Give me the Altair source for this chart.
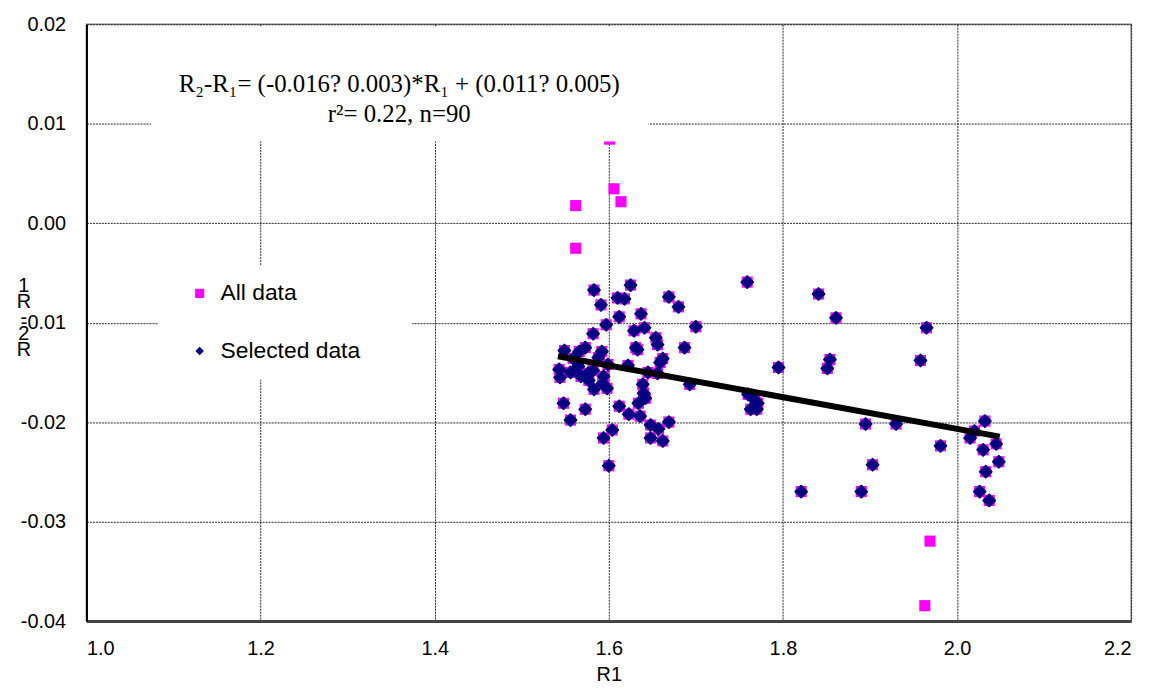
import altair as alt
import pandas as pd

# Selected data (R1, R2-R1)
sel_r1 = [1.583, 1.625, 1.610, 1.618, 1.669, 1.680, 1.591, 1.612, 1.637, 1.597,
          1.700, 1.582, 1.629, 1.641, 1.654, 1.656, 1.631, 1.633, 1.687, 1.573,
          1.566, 1.549, 1.592, 1.662, 1.659, 1.599, 1.622, 1.565, 1.543, 1.544,
          1.556, 1.576, 1.577, 1.582, 1.594, 1.593, 1.598, 1.583, 1.656, 1.693,
          1.639, 1.640, 1.642, 1.634, 1.548, 1.573, 1.612, 1.623, 1.636, 1.556,
          1.669, 1.648, 1.657, 1.604, 1.594, 1.648, 1.662, 1.600, 1.759, 1.841,
          1.861, 1.965, 1.958, 1.854, 1.851, 1.795, 1.760, 1.763, 1.770, 1.771,
          1.895, 1.930, 1.981, 1.903, 1.821, 1.890, 2.032, 2.020, 2.015, 2.045,
          2.030, 2.048, 2.033, 2.026, 2.037, 1.559, 1.588, 1.568, 1.645, 1.768]
sel_diff = [-0.00672, -0.00622, -0.00751, -0.00761, -0.00741, -0.00841, -0.00821, -0.00941, -0.00911, -0.01021,
            -0.01041, -0.01111, -0.01081, -0.01051, -0.01151, -0.01221, -0.01251, -0.01271, -0.01251, -0.01251,
            -0.01290, -0.01280, -0.01290, -0.01360, -0.01400, -0.01420, -0.01430, -0.01440, -0.01470, -0.01550,
            -0.01500, -0.01510, -0.01580, -0.01480, -0.01540, -0.01610, -0.01660, -0.01670, -0.01510, -0.01620,
            -0.01620, -0.01710, -0.01760, -0.01810, -0.01810, -0.01870, -0.01840, -0.01920, -0.01940, -0.01979,
            -0.01999, -0.02029, -0.02069, -0.02079, -0.02159, -0.02159, -0.02189, -0.02438, -0.00592, -0.00712,
            -0.00951, -0.01051, -0.01380, -0.01370, -0.01460, -0.01450, -0.01720, -0.01870, -0.01870, -0.01810,
            -0.02019, -0.02019, -0.02238, -0.02428, -0.02698, -0.02698, -0.01989, -0.02089, -0.02159, -0.02218,
            -0.02278, -0.02398, -0.02498, -0.02698, -0.02787, -0.01360, -0.01350, -0.01540, -0.01500, -0.01780]

# Points only in "All data"
out_r1 = [1.601, 1.562, 1.562, 1.606, 1.614, 1.969, 1.963]
out_diff = [0.00845, 0.00177, -0.00252, 0.00346, 0.00216, -0.03196, -0.03845]

# Fitted line end points
fit_r1 = [1.5416, 2.049]
fit_diff = [-0.01337, -0.02146]

x_ticks = [1.0, 1.2, 1.4, 1.6, 1.8, 2.0, 2.2]
y_ticks = [-0.04, -0.03, -0.02, -0.01, 0.0, 0.01, 0.02]

legend_labels = ["All data", "Selected data"]
eq_lines = ["R\u2082-R\u2081= (-0.016? 0.003)*R\u2081 + (0.011? 0.005)",
            "r\u00b2= 0.22, n=90"]
y_title = "1\nR\n-\n2\nR"

all_df = pd.DataFrame({"R1": sel_r1 + out_r1, "D": sel_diff + out_diff})
sel_df = pd.DataFrame({"R1": sel_r1, "D": sel_diff})
fit_df = pd.DataFrame({"R1": fit_r1, "D": fit_diff})
one = pd.DataFrame({"k": [0]})

xs = alt.Scale(domain=[1.0, 2.2], nice=False, zero=False)
ys = alt.Scale(domain=[-0.04, 0.02], nice=False, zero=False)

xenc = alt.X("R1:Q", scale=xs, title="R1",
             axis=alt.Axis(values=x_ticks, format=".1f", domainColor="#444", domainWidth=3,
                           labelPadding=18, titlePadding=6, titleFontSize=20,
                           titleFontWeight="normal", titleFont="Liberation Sans",
                           titleColor="black"))
yenc = alt.Y("D:Q", scale=ys, title=None,
             axis=alt.Axis(values=y_ticks, domainColor="black", domainWidth=2, labelPadding=21,
                           labelExpr="datum.value < -0.0001 ? '-' + format(-datum.value, '.2f') : format(datum.value, '.2f')"))

pink = alt.Chart(all_df).mark_point(shape="square", filled=True, color="#FF00FF", size=125, opacity=1).encode(
    x=xenc, y=yenc)
navy = alt.Chart(sel_df).mark_point(shape="diamond", filled=True, color="#000080", size=140, opacity=1,
                                    stroke="#000080", strokeWidth=2, strokeJoin="round").encode(
    x="R1:Q", y="D:Q")

eq_box = alt.Chart(one).mark_rect(color="white").encode(
    x=alt.value(65), x2=alt.value(566), y=alt.value(2), y2=alt.value(118))
leg_box = alt.Chart(one).mark_rect(color="white").encode(
    x=alt.value(72), x2=alt.value(328), y=alt.value(243), y2=alt.value(358))

fit = alt.Chart(fit_df).mark_line(color="black", strokeWidth=6).encode(x="R1:Q", y="D:Q")

eq1 = alt.Chart(pd.DataFrame({"t": [eq_lines[0]]})).mark_text(
    font="Liberation Serif", fontSize=25, color="black", align="center", baseline="middle").encode(
    x=alt.value(315), y=alt.value(60), text="t:N")
eq2 = alt.Chart(pd.DataFrame({"t": [eq_lines[1]]})).mark_text(
    font="Liberation Serif", fontSize=25, color="black", align="center", baseline="middle").encode(
    x=alt.value(315), y=alt.value(90), text="t:N")

leg_sq = alt.Chart(one).mark_point(shape="square", filled=True, color="#FF00FF", size=85, opacity=1).encode(
    x=alt.value(114), y=alt.value(271))
leg_dm = alt.Chart(one).mark_point(shape="diamond", filled=True, color="#000080", size=75, opacity=1).encode(
    x=alt.value(114), y=alt.value(329))
leg_t1 = alt.Chart(pd.DataFrame({"t": [legend_labels[0]]})).mark_text(
    font="Liberation Sans", fontSize=23, color="black", align="left", baseline="middle").encode(
    x=alt.value(135), y=alt.value(271), text="t:N")
leg_t2 = alt.Chart(pd.DataFrame({"t": [legend_labels[1]]})).mark_text(
    font="Liberation Sans", fontSize=23, color="black", align="left", baseline="middle").encode(
    x=alt.value(135), y=alt.value(329), text="t:N")

ytitle = alt.Chart(pd.DataFrame({"t": [y_title]})).mark_text(
    font="Liberation Sans", fontSize=20, color="black", align="center", baseline="middle",
    lineBreak="\n", lineHeight=16).encode(
    x=alt.value(-63), y=alt.value(264), text="t:N")

chart = alt.layer(pink, navy, eq_box, leg_box, fit, eq1, eq2, leg_sq, leg_dm, leg_t1, leg_t2, ytitle).properties(
    width=1052, height=601,
    autosize=alt.AutoSizeParams(type="none"),
    padding={"left": 79, "top": 14, "right": 20, "bottom": 67},
    background="white",
).configure_axis(
    labelFont="Liberation Sans", labelFontSize=20, labelColor="black",
    ticks=False, grid=True, gridColor="#111", gridDash=[2, 1], gridWidth=1, gridOpacity=0.9,
).configure_view(stroke="#888", strokeWidth=1.5)

chart.save("out.html", embed_options={"renderer": "svg", "actions": False})
